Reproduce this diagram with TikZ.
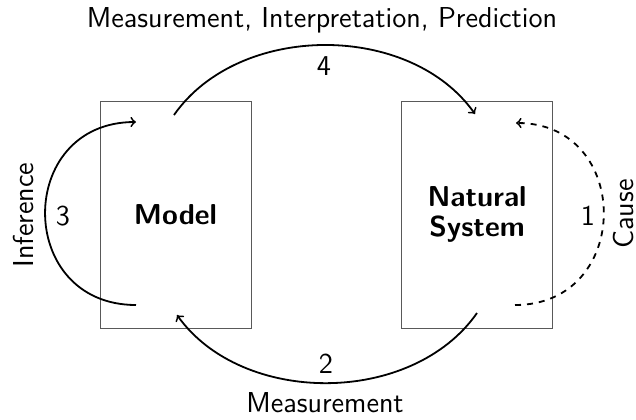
\documentclass[tikz,border=0pt]{standalone}
\begin{document}
\begin{tikzpicture}[x=0.5pt,y=-0.5pt,
  font=\sffamily\fontsize{14.4}{17}\selectfont,
  box/.style={draw=black!65, line width=0.5pt, minimum width=75.5pt, minimum height=113.5pt, inner sep=0pt, align=center},
  conn/.style={->, line width=0.9pt},
  lbl/.style={inner sep=0pt}]
\useasboundingbox (0,0) rectangle (636,419);
\node[box] (model) at (175.5,214.5) {\bfseries Model};
\node[box] (nat) at (477,214.5) {\bfseries Natural\\[-2pt]\bfseries System};
% connector ends
\coordinate (m4) at (174,115);
\coordinate (n4) at (475,114);
\coordinate (n2) at (477,313);
\coordinate (m2) at (177,315);
\coordinate (m3a) at (136,305);
\coordinate (m3b) at (136,122);
\coordinate (n1a) at (515,305);
\coordinate (n1b) at (516,123);
\draw[conn] (m4) .. controls (239,22) and (410,22) .. (n4);
\draw[conn] (n2) .. controls (412,406) and (242,406) .. (m2);
\draw[conn] (m3a) .. controls (15,305) and (15,122) .. (m3b);
\draw[conn,dashed] (n1a) .. controls (633,305) and (633,123) .. (n1b);
% labels
\node[lbl] (t4) at (322,20) {Measurement, Interpretation, Prediction};
\node[lbl] (l4) at (324,66) {4};
\node[lbl] (l2) at (326,364) {2};
\node[lbl] (t2) at (325,403) {Measurement};
\node[lbl] (l3) at (63,216) {3};
\node[lbl, rotate=90] (t3) at (24,215) {Inference};
\node[lbl] (l1) at (588,216) {1};
\node[lbl, rotate=90] (t1) at (623,214) {Cause};
\end{tikzpicture}
\end{document}
